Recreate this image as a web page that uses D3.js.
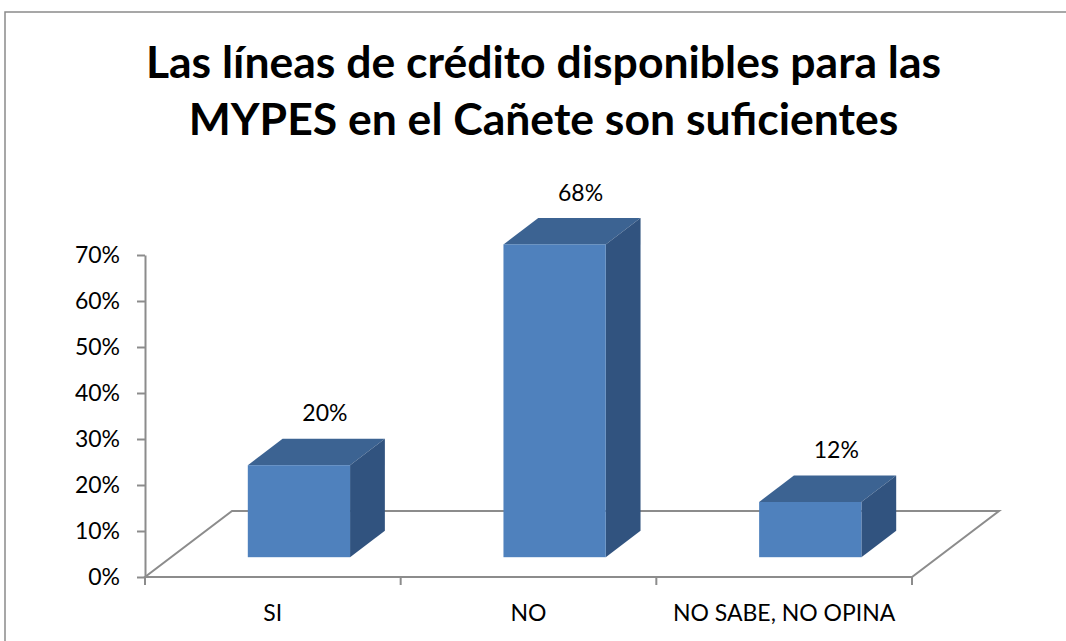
<!DOCTYPE html>
<html>
<head>
<meta charset="utf-8">
<script src="https://cdn.jsdelivr.net/npm/d3@7"></script>
<style>
  html, body { margin: 0; padding: 0; background: #fff; }
  svg { display: block; }
  text { font-family: Lato, "Open Sans", sans-serif; fill: #000; }
</style>
</head>
<body>
<svg id="chart" width="1066" height="641"></svg>
<script>
const titleLines = ["Las líneas de crédito disponibles para las", "MYPES en el Cañete son suficientes"];
const categories = ["SI", "NO", "NO SABE, NO OPINA"];
const values = [0.20, 0.68, 0.12];
const valueLabels = ["20%", "68%", "12%"];
const yTicks = [0, 0.1, 0.2, 0.3, 0.4, 0.5, 0.6, 0.7];

const svg = d3.select("#chart");
const W = 1066, H = 641;

// chart border
svg.append("rect").attr("x", 5).attr("y", 12).attr("width", W + 10).attr("height", H + 10)
  .attr("fill", "#fff").attr("stroke", "#8a8a8a").attr("stroke-width", 1.5);

// title
const title = svg.append("text").attr("text-anchor", "middle")
  .style("font-weight", "bold").style("font-size", "44.5px");
titleLines.forEach((t, i) => {
  title.append("tspan").attr("x", 543.5).attr("y", 78 + i * 57).text(t);
});

// scales
const x = d3.scaleBand().domain(categories).range([145, 912]).paddingInner(0).paddingOuter(0);
const y = d3.scaleLinear().domain([0, 0.7]).range([577, 255]);
const floorDx = 87, floorDy = -66;
const bw = x.bandwidth();
const frontFrac = 0.3, backFrac = 0.7;
const depDx = (backFrac - frontFrac) * floorDx, depDy = (backFrac - frontFrac) * floorDy;

const gridColor = "#8c8c8c";

// floor
const x0 = x.range()[0], x1 = x.range()[1], y0 = y(0);
svg.append("path")
  .attr("d", `M${x0},${y0} L${x1},${y0} L${x1 + floorDx},${y0 + floorDy} L${x0 + floorDx},${y0 + floorDy} Z`)
  .attr("fill", "none").attr("stroke", gridColor).attr("stroke-width", 2);

// y axis
const yAxis = d3.axisLeft(y).tickValues(yTicks).tickFormat(d3.format(".0%"))
  .tickSize(8).tickSizeOuter(0).tickPadding(17);
const gy = svg.append("g").attr("transform", `translate(${x0},0)`).call(yAxis);
gy.select(".domain").attr("stroke", gridColor).attr("stroke-width", 2);
gy.selectAll(".tick line").attr("stroke", gridColor).attr("stroke-width", 2);
gy.selectAll(".tick text").style("font-size", "23px").style("font-family", "Lato").attr("fill", "#000");

// x axis ticks and labels
const bounds = categories.map(c => x(c)).concat([x1]);
svg.append("g").selectAll("line").data(bounds).join("line")
  .attr("x1", d => d).attr("x2", d => d).attr("y1", y0).attr("y2", y0 + 8)
  .attr("stroke", gridColor).attr("stroke-width", 2);
svg.append("g").selectAll("text").data(categories).join("text")
  .attr("x", d => x(d) + bw / 2).attr("y", 621).attr("text-anchor", "middle")
  .style("font-size", "23px").text(d => d);

// bars
const bars = svg.append("g").selectAll("g").data(categories.map((c, i) => ({ c, v: values[i], label: valueLabels[i] })))
  .join("g");
bars.each(function(d) {
  const g = d3.select(this);
  const L = x(d.c) + bw * 0.3 + frontFrac * floorDx;
  const R = L + bw * 0.4;
  const B = y(0) + frontFrac * floorDy;
  const T = y(d.v) + frontFrac * floorDy;
  g.append("path").attr("d", `M${L},${T} L${L + depDx},${T + depDy} L${R + depDx},${T + depDy} L${R},${T} Z`)
    .attr("fill", "#3c6392");
  g.append("path").attr("d", `M${R},${T} L${R + depDx},${T + depDy} L${R + depDx},${B + depDy} L${R},${B} Z`)
    .attr("fill", "#31537f");
  g.append("rect").attr("x", L).attr("y", T).attr("width", R - L).attr("height", B - T)
    .attr("fill", "#4f81bd");
  g.append("text").attr("x", (L + R) / 2 + 26).attr("y", T - 52).attr("dy", "0.36em")
    .attr("text-anchor", "middle").style("font-size", "23px").text(d.label);
});
</script>
</body>
</html>
